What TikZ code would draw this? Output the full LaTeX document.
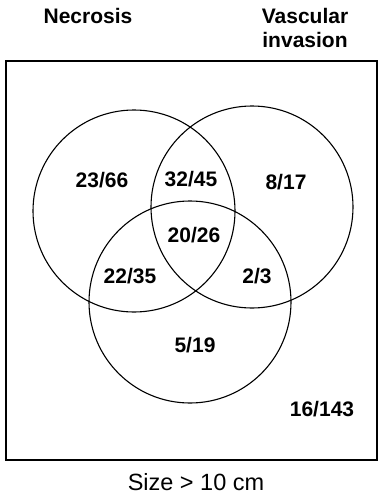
\documentclass[tikz,border=0pt]{standalone}
\usepackage{fontspec}
\setmainfont{Liberation Sans}
\usetikzlibrary{positioning}

\begin{document}
\begin{tikzpicture}[x=1pt, y=-1pt,
    setring/.style={circle, draw, line width=1.1pt, minimum size=202pt, inner sep=0pt},
    count/.style={font=\fontsize{21}{24}\selectfont\bfseries},
    heading/.style={font=\fontsize{21}{24}\selectfont\bfseries, align=center}]
    \useasboundingbox (0,0) rectangle (379,496);

    % frame of all cases
    \draw[line width=1.3pt] (6,61) rectangle (377,460);

    % the three sets
    \node[setring] (necrosis) at (134,211) {};
    \node[setring] (vascular) at (252,207) {};
    \node[setring] (size) at (190,302) {};

    % headings
    \node[heading] (necrosislabel) at (88,16) {Necrosis};
    \node[heading] (vascularlabel) at (305,28) {Vascular\\invasion};
    \node[font=\fontsize{23.5}{26}\selectfont] (sizelabel) at (196,482) {Size > 10 cm};

    % counts
    \node[count] (n) at (102,180) {23/66};
    \node[count] (nv) at (191,179) {32/45};
    \node[count] (v) at (286,182) {8/17};
    \node[count] (nvs) at (194,235) {20/26};
    \node[count] (ns) at (130,276) {22/35};
    \node[count] (vs) at (257,276) {2/3};
    \node[count] (s) at (195,345) {5/19};
    \node[count] (none) at (322,409) {16/143};
\end{tikzpicture}
\end{document}
